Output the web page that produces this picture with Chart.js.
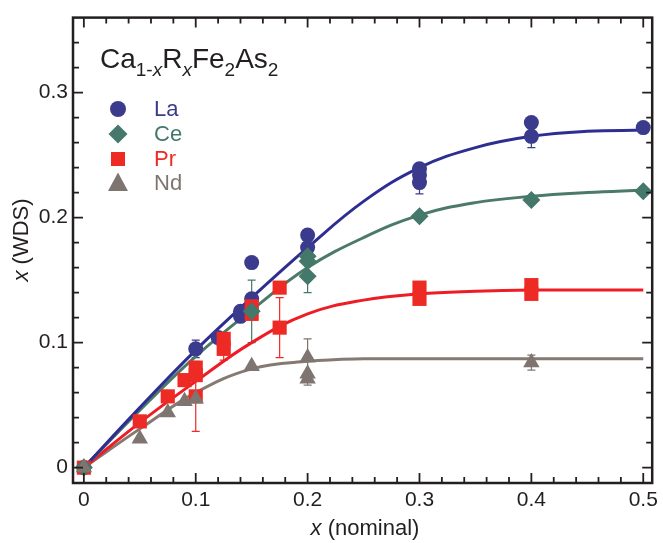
<!DOCTYPE html>
<html>
<head>
<meta charset="utf-8">
<script src="https://cdn.jsdelivr.net/npm/chart.js@4/dist/chart.umd.min.js"></script>
<style>
  html, body { margin: 0; padding: 0; background: #fff; }
  #wrap { width: 663px; height: 543px; }
</style>
</head>
<body>
<div id="wrap"><canvas id="chart" width="663" height="543"></canvas></div>
<script>
// Measured points (x nominal, x WDS, error bar half-height; 0 = none)
const laX   = [0, 0.1, 0.12, 0.14, 0.14, 0.15, 0.15, 0.2, 0.2, 0.3, 0.3, 0.3, 0.4, 0.4, 0.5];
const laY   = [0, 0.095, 0.104, 0.121, 0.125, 0.135, 0.164, 0.186, 0.176, 0.239, 0.234, 0.228, 0.276, 0.265, 0.272];
const laErr = [0, 0.007, 0, 0, 0, 0, 0, 0, 0, 0, 0, 0.009, 0, 0.009, 0];

const ceX   = [0, 0.15, 0.2, 0.2, 0.2, 0.3, 0.4, 0.5];
const ceY   = [0, 0.125, 0.169, 0.165, 0.153, 0.201, 0.214, 0.221];
const ceErr = [0, 0.025, 0, 0, 0.013, 0, 0, 0];

const prX   = [0, 0.05, 0.075, 0.09, 0.1, 0.1, 0.1, 0.125, 0.125, 0.15, 0.15, 0.175, 0.175, 0.3, 0.3, 0.4, 0.4];
const prY   = [0, 0.037, 0.057, 0.070, 0.080, 0.074, 0.057, 0.103, 0.095, 0.129, 0.123, 0.144, 0.112, 0.144, 0.135, 0.146, 0.139];
const prErr = [0, 0, 0, 0, 0, 0, 0.028, 0, 0.009, 0, 0, 0, 0.024, 0, 0, 0, 0];

const ndX   = [0, 0.05, 0.075, 0.09, 0.1, 0.15, 0.2, 0.2, 0.2, 0.4];
const ndY   = [0, 0.023, 0.044, 0.053, 0.055, 0.081, 0.088, 0.075, 0.071, 0.084];
const ndErr = [0, 0, 0, 0, 0, 0, 0.015, 0, 0.005, 0.006];

// Fit curves
const fitX  = [0, 0.05, 0.1, 0.15, 0.2, 0.25, 0.3, 0.35, 0.4, 0.45, 0.5];
const laFit = [0, 0.048, 0.094, 0.136, 0.176, 0.213, 0.240, 0.256, 0.265, 0.269, 0.270];
const ceFit = [0, 0.046, 0.089, 0.126, 0.160, 0.184, 0.202, 0.212, 0.217, 0.220, 0.222];
const prFit = [0, 0.036, 0.069, 0.100, 0.123, 0.134, 0.139, 0.141, 0.142, 0.142, 0.142];
const ndFit = [0, 0.031, 0.060, 0.079, 0.085, 0.087, 0.087, 0.087, 0.087, 0.087, 0.087];

const seriesNames = ['La', 'Ce', 'Pr', 'Nd'];
const xTicks = [0, 0.1, 0.2, 0.3, 0.4, 0.5];
const yTicks = [0, 0.1, 0.2, 0.3];

const INK = '#231f20';
const FONT = "'Liberation Sans', Arial, Helvetica, sans-serif";
const colors = {
  La: { mark: '#3b3b8d', line: '#2e2e92' },
  Ce: { mark: '#44786a', line: '#4b7a68' },
  Pr: { mark: '#ee2a24', line: '#ee1c25' },
  Nd: { mark: '#7f7570', line: '#857972' }
};

const toPts = (xs, ys) => xs.map((x, i) => ({ x: x, y: ys[i] }));

function fitSet(name, ys) {
  return {
    label: name + ' fit', data: toPts(fitX, ys), showLine: true,
    borderColor: colors[name].line, borderWidth: 3, pointRadius: 0,
    tension: 0.4, fill: false, order: 10, clip: false
  };
}
function markSet(name, xs, ys, style, r, order) {
  return {
    label: name, data: toPts(xs, ys), pointStyle: style, pointRadius: r,
    pointHoverRadius: r, backgroundColor: colors[name].mark,
    borderColor: colors[name].mark, borderWidth: 0, order: order, clip: false
  };
}

const errs = [
  { name: 'La', xs: laX, ys: laY, e: laErr },
  { name: 'Ce', xs: ceX, ys: ceY, e: ceErr },
  { name: 'Pr', xs: prX, ys: prY, e: prErr },
  { name: 'Nd', xs: ndX, ys: ndY, e: ndErr }
];

function drawMarker(ctx, style, x, y, r, col) {
  ctx.fillStyle = col;
  ctx.beginPath();
  if (style === 'circle') ctx.arc(x, y, r, 0, Math.PI * 2);
  else if (style === 'diamond') { ctx.moveTo(x, y - r); ctx.lineTo(x + r, y); ctx.lineTo(x, y + r); ctx.lineTo(x - r, y); }
  else if (style === 'square') ctx.rect(x - r, y - r, 2 * r, 2 * r);
  else { ctx.moveTo(x, y - r); ctx.lineTo(x + r * 0.95, y + r * 0.75); ctx.lineTo(x - r * 0.95, y + r * 0.75); }
  ctx.closePath();
  ctx.fill();
}

// draw a run of text pieces [text, size, italic, dy]
function drawRich(ctx, parts, x, y) {
  let cx = x;
  parts.forEach(p => {
    ctx.font = (p[2] ? 'italic ' : '') + p[1] + 'px ' + FONT;
    ctx.fillText(p[0], cx, y + (p[3] || 0));
    cx += ctx.measureText(p[0]).width;
  });
  return cx - x;
}
function richWidth(ctx, parts) {
  let w = 0;
  parts.forEach(p => {
    ctx.font = (p[2] ? 'italic ' : '') + p[1] + 'px ' + FONT;
    w += ctx.measureText(p[0]).width;
  });
  return w;
}

const decor = {
  id: 'decor',
  beforeDatasetsDraw(chart) {
    const ctx = chart.ctx, xs = chart.scales.x, ys = chart.scales.y;
    ctx.save();
    ctx.lineWidth = 1.2;
    errs.forEach(s => {
      ctx.strokeStyle = colors[s.name].mark;
      s.e.forEach((e, i) => {
        if (!e) return;
        const px = xs.getPixelForValue(s.xs[i]);
        const y1 = ys.getPixelForValue(s.ys[i] - e), y2 = ys.getPixelForValue(s.ys[i] + e);
        ctx.beginPath();
        ctx.moveTo(px, y1); ctx.lineTo(px, y2);
        ctx.moveTo(px - 4, y1); ctx.lineTo(px + 4, y1);
        ctx.moveTo(px - 4, y2); ctx.lineTo(px + 4, y2);
        ctx.stroke();
      });
    });
    ctx.restore();
  },
  afterDraw(chart) {
    const ctx = chart.ctx, a = chart.chartArea, xs = chart.scales.x, ys = chart.scales.y;
    ctx.save();
    // frame
    ctx.strokeStyle = INK;
    ctx.lineWidth = 2.5;
    ctx.strokeRect(a.left, a.top, a.right - a.left, a.bottom - a.top);
    // inward ticks on all four sides
    ctx.lineWidth = 1.8;
    ctx.beginPath();
    for (let k = 0; k <= 25; k++) {
      const v = k * 0.02;
      const len = (k % 5 === 0) ? 10 : 6;
      const px = xs.getPixelForValue(v);
      ctx.moveTo(px, a.bottom); ctx.lineTo(px, a.bottom - len);
      ctx.moveTo(px, a.top); ctx.lineTo(px, a.top + len);
    }
    for (let k = 0; k <= 17; k++) {
      const v = k * 0.02;
      const len = (k % 5 === 0) ? 10 : 6;
      const py = ys.getPixelForValue(v);
      ctx.moveTo(a.left, py); ctx.lineTo(a.left + len, py);
      ctx.moveTo(a.right, py); ctx.lineTo(a.right - len, py);
    }
    ctx.stroke();

    // compound label
    ctx.fillStyle = INK;
    ctx.textBaseline = 'alphabetic';
    ctx.textAlign = 'left';
    drawRich(ctx, [['Ca', 28], ['1-', 19, false, 8], ['x', 19, true, 8], ['R', 28], ['x', 19, true, 8],
                   ['Fe', 28], ['2', 19, false, 8], ['As', 28], ['2', 19, false, 8]], 100, 68);

    // legend
    const styles = ['circle', 'diamond', 'square', 'triangle'];
    const sizes = [8, 9.5, 7, 10.5];
    const rows = [109, 134, 159, 183];
    ctx.textBaseline = 'middle';
    ctx.font = '22px ' + FONT;
    seriesNames.forEach((n, i) => {
      drawMarker(ctx, styles[i], 118, rows[i], sizes[i], colors[n].mark);
      ctx.fillStyle = colors[n].mark;
      ctx.fillText(n, 154, rows[i] + 1);
    });

    // axis titles
    ctx.fillStyle = INK;
    ctx.textBaseline = 'alphabetic';
    const xt = [['x', 22, true], [' (nominal)', 22]];
    drawRich(ctx, xt, 365 - richWidth(ctx, xt) / 2, 535);
    const yt = [['x', 22, true], [' (WDS)', 22]];
    ctx.translate(28, 240);
    ctx.rotate(-Math.PI / 2);
    drawRich(ctx, yt, -richWidth(ctx, yt) / 2, 0);
    ctx.restore();
  }
};

new Chart(document.getElementById('chart'), {
  type: 'scatter',
  data: {
    datasets: [
      fitSet('La', laFit), fitSet('Ce', ceFit), fitSet('Pr', prFit), fitSet('Nd', ndFit),
      markSet('La', laX, laY, 'circle', 7.5, 4),
      markSet('Pr', prX, prY, 'rect', 10, 3),
      markSet('Ce', ceX, ceY, 'rectRot', 9, 2),
      markSet('Nd', ndX, ndY, 'triangle', 9.5, 1)
    ]
  },
  options: {
    responsive: false,
    animation: false,
    events: [],
    layout: { padding: { top: 11, right: 4, left: 0, bottom: 0 } },
    plugins: { legend: { display: false }, tooltip: { enabled: false } },
    scales: {
      x: {
        type: 'linear', min: -0.0097, max: 0.508,
        afterBuildTicks: s => { s.ticks = xTicks.map(v => ({ value: v })); },
        afterFit: s => { s.height = 60; },
        grid: { display: false, drawTicks: false },
        border: { display: false },
        ticks: {
          padding: 5, color: INK, font: { family: FONT, size: 21 },
          callback: v => (v === 0 ? '0' : v.toFixed(1))
        }
      },
      y: {
        type: 'linear', min: -0.0123, max: 0.36,
        afterBuildTicks: s => { s.ticks = yTicks.map(v => ({ value: v })); },
        afterFit: s => { s.width = 73; },
        grid: { display: false, drawTicks: false },
        border: { display: false },
        ticks: {
          padding: 5, color: INK, font: { family: FONT, size: 21 },
          callback: v => (v === 0 ? '0' : v.toFixed(1))
        }
      }
    }
  },
  plugins: [decor]
});
</script>
</body>
</html>
